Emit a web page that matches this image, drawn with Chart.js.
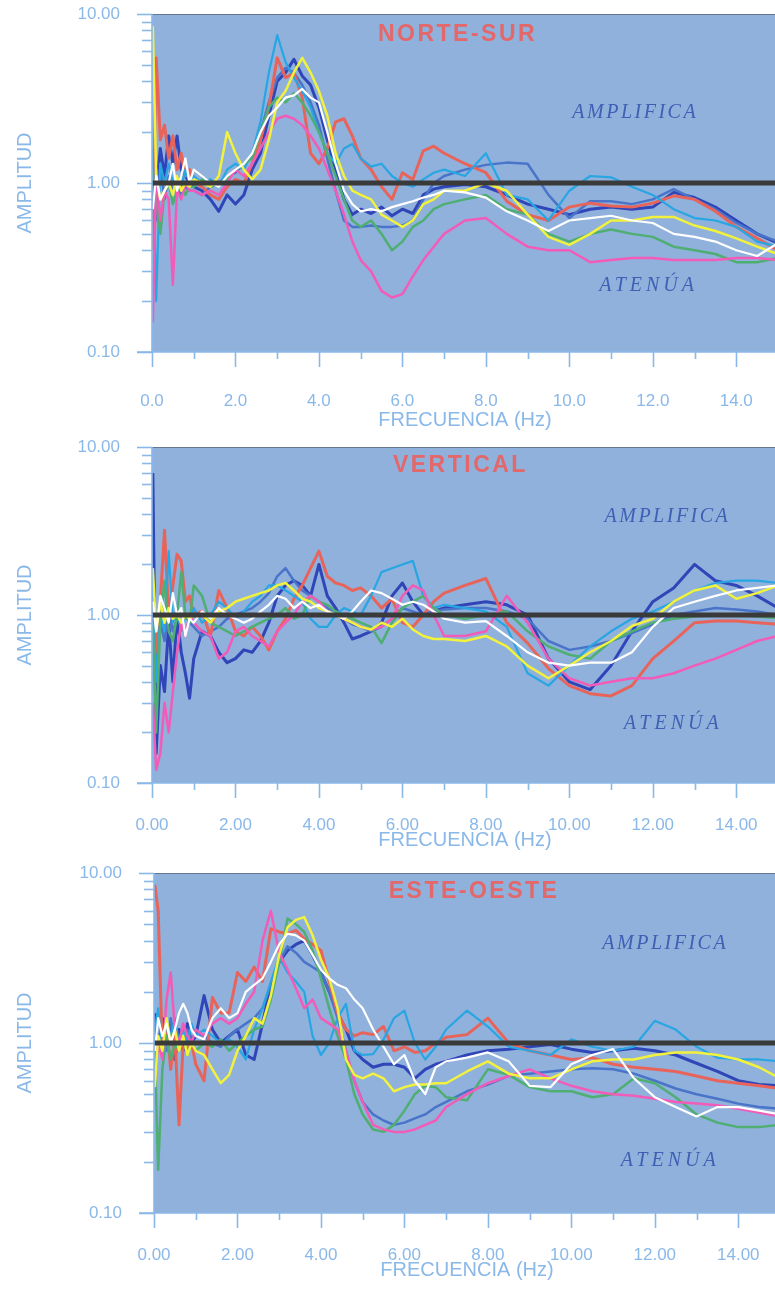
<!DOCTYPE html>
<html><head><meta charset="utf-8">
<script src="https://cdn.jsdelivr.net/npm/chart.js@4/dist/chart.umd.min.js"></script>
<style>
html,body{margin:0;padding:0;background:#ffffff;overflow:hidden;width:775px;height:1290px;}
canvas{position:absolute;left:0;}
</style></head><body>
<canvas id="c1"></canvas><canvas id="c2"></canvas><canvas id="c3"></canvas>
<script>
// ---------------- DATA ----------------
const freq = [0.02,0.1,0.2,0.3,0.4,0.5,0.6,0.7,0.8,0.9,
  1.0,1.2,1.4,1.6,1.8,2.0,2.2,2.4,2.6,2.8,
  3.0,3.2,3.4,3.6,3.8,4.0,4.2,4.4,4.6,4.8,
  5.0,5.25,5.5,5.75,6.0,6.25,6.5,6.75,7.0,7.5,
  8.0,8.5,9.0,9.5,10,10.5,11,11.5,12,12.5,
  13,13.5,14,14.5,15];
const xTickValues = [0,2,4,6,8,10,12,14];
const yTickValues = [0.1,1,10];
const refFreq = [0,15];
const refAmp = [1,1];
const seriesNames = ['blanco','amarillo','rosa','verde','celeste','rojo','azul','azul oscuro'];

// NORTE-SUR
const nsWhite = [0.7,1.1,0.8,0.9,1.0,1.3,0.9,1.1,1.4,1.0,
  1.2,1.1,1.0,0.95,1.1,1.2,1.3,1.5,2.0,2.5,
  2.8,3.2,3.3,3.6,3.2,3.0,2.0,1.3,0.9,0.75,
  0.68,0.7,0.68,0.72,0.75,0.78,0.82,0.85,0.9,0.88,
  0.82,0.68,0.6,0.52,0.6,0.62,0.64,0.6,0.58,0.5,
  0.48,0.45,0.4,0.37,0.44];
const nsYellow = [8.5,1.1,0.8,0.9,1.0,0.85,1.1,0.9,1.0,0.95,
  1.05,1.0,0.95,1.1,2.0,1.5,1.2,1.05,1.2,1.8,
  3.0,3.5,4.5,5.5,4.5,3.5,2.5,1.5,1.1,0.9,
  0.85,0.8,0.65,0.6,0.55,0.6,0.75,0.8,0.9,0.9,
  1.0,0.9,0.65,0.48,0.43,0.5,0.6,0.6,0.63,0.63,
  0.56,0.52,0.47,0.42,0.38];
const nsPink = [0.15,1.2,0.6,0.9,0.8,0.25,0.9,0.8,1.0,0.9,
  0.9,0.85,0.9,0.85,1.0,1.2,1.1,1.3,1.6,2.0,
  2.4,2.5,2.4,2.2,1.9,1.6,1.2,0.9,0.65,0.45,
  0.35,0.3,0.23,0.21,0.22,0.28,0.35,0.42,0.5,0.6,
  0.62,0.5,0.42,0.4,0.4,0.34,0.35,0.36,0.36,0.35,
  0.35,0.35,0.36,0.36,0.35];
const nsGreen = [1.2,0.8,0.5,0.9,1.0,0.75,0.9,1.0,0.85,0.95,
  0.95,1.05,0.95,1.0,1.05,1.2,1.3,1.4,2.0,2.8,
  3.2,3.0,3.4,3.0,2.5,2.0,1.5,1.1,0.8,0.6,
  0.55,0.6,0.5,0.4,0.45,0.55,0.6,0.7,0.75,0.8,
  0.85,0.7,0.65,0.5,0.45,0.5,0.53,0.5,0.48,0.42,
  0.4,0.38,0.34,0.34,0.36];
const nsCyan = [1.6,0.2,1.3,1.0,1.3,1.0,1.1,0.95,1.2,1.0,
  1.1,1.0,1.05,0.95,1.2,1.3,1.2,1.5,2.3,4.5,
  7.5,5.2,4.2,3.5,2.8,2.0,1.5,1.3,1.6,1.7,
  1.4,1.25,1.3,1.1,1.0,0.95,1.05,1.15,1.2,1.1,
  1.5,0.85,0.8,0.6,0.9,1.1,1.08,0.95,0.85,0.7,
  0.62,0.6,0.55,0.45,0.42];
const nsRed = [0.4,5.5,1.8,2.2,1.4,1.9,1.2,1.5,1.1,1.2,
  1.0,0.95,0.85,0.8,0.95,1.05,1.0,1.3,1.8,2.8,
  5.5,4.2,4.5,3.2,1.5,1.3,1.6,2.3,2.4,1.9,
  1.4,1.2,0.95,0.8,1.15,1.05,1.55,1.65,1.5,1.3,
  1.15,0.78,0.65,0.6,0.72,0.76,0.73,0.72,0.76,0.84,
  0.8,0.68,0.55,0.47,0.4];
const nsBlue = [1.0,0.6,1.3,0.8,1.1,0.9,1.0,0.85,0.95,0.9,
  0.9,0.85,0.95,1.0,1.1,1.15,1.3,1.5,2.0,3.0,
  4.2,4.8,4.5,3.8,3.0,2.2,1.4,0.9,0.6,0.55,
  0.55,0.56,0.55,0.55,0.56,0.6,0.8,1.0,1.1,1.2,
  1.28,1.32,1.3,0.85,0.62,0.78,0.78,0.75,0.8,0.92,
  0.8,0.7,0.58,0.5,0.45];
const nsDarkBlue = [1.5,0.9,1.6,1.1,1.9,1.3,1.9,1.2,1.1,1.0,
  0.95,0.9,0.8,0.68,0.85,0.75,0.85,1.2,1.5,2.5,
  4.0,4.5,5.4,4.3,3.8,2.8,1.8,1.2,0.8,0.65,
  0.7,0.66,0.72,0.64,0.7,0.66,0.85,0.92,0.95,0.98,
  0.95,0.85,0.75,0.7,0.65,0.7,0.72,0.7,0.72,0.88,
  0.82,0.72,0.6,0.5,0.44];

// VERTICAL
const vWhite = [1.2,0.8,1.3,1.1,0.9,1.35,1.0,1.1,0.75,0.95,
  0.9,1.05,0.95,1.1,1.0,0.95,0.9,0.95,1.05,1.15,
  1.3,1.25,1.1,1.2,1.1,1.15,1.05,1.0,0.95,1.05,
  1.2,1.4,1.35,1.25,1.15,1.2,1.15,1.05,0.95,0.9,
  0.92,0.75,0.6,0.52,0.5,0.52,0.52,0.6,0.85,1.1,
  1.2,1.3,1.4,1.45,1.5];
const vYellow = [1.9,0.8,1.2,0.9,1.1,0.95,1.0,0.9,1.0,0.95,
  1.0,1.0,0.9,1.05,1.1,1.2,1.25,1.3,1.35,1.4,
  1.5,1.55,1.4,1.25,1.2,1.1,1.05,1.0,0.95,0.9,
  0.85,0.82,0.9,0.85,0.95,0.82,0.75,0.72,0.72,0.7,
  0.75,0.65,0.5,0.42,0.5,0.6,0.7,0.86,0.95,1.2,
  1.4,1.5,1.25,1.35,1.5];
const vPink = [0.3,0.12,0.15,0.3,0.2,0.35,0.6,0.9,0.75,1.0,
  0.9,0.8,0.75,0.55,0.6,0.8,0.85,0.75,0.7,0.65,
  0.8,0.9,1.0,1.2,1.3,1.2,1.05,1.0,0.95,0.9,
  0.85,0.82,0.85,0.95,1.3,1.5,1.4,1.0,0.75,0.75,
  0.8,1.3,0.9,0.55,0.42,0.38,0.4,0.42,0.42,0.45,
  0.5,0.55,0.62,0.7,0.75];
const vGreen = [0.9,0.2,0.9,1.6,0.8,0.7,1.0,1.8,1.0,0.9,
  1.5,1.3,0.9,0.85,0.8,0.75,0.8,0.85,0.9,0.95,
  1.0,1.1,0.95,1.0,1.3,1.2,1.15,1.05,1.0,0.95,
  0.9,0.85,0.68,0.9,1.1,1.2,1.3,1.1,1.0,0.95,
  1.0,1.05,0.8,0.65,0.58,0.55,0.7,0.8,0.9,0.95,
  0.98,1.0,1.0,0.98,0.96];
const vCyan = [1.5,0.4,1.0,0.8,2.4,0.9,1.1,0.8,1.0,0.9,
  1.1,0.9,1.0,1.2,1.1,0.95,1.05,1.2,1.3,1.5,
  1.5,1.4,1.3,1.2,0.95,0.85,0.85,1.0,1.1,1.05,
  1.0,1.3,1.8,1.9,2.0,2.1,1.3,1.1,1.15,1.1,
  1.05,0.85,0.45,0.38,0.5,0.65,0.8,0.95,1.05,1.2,
  1.4,1.55,1.6,1.6,1.55];
const vRed = [1.3,0.6,1.2,3.2,1.0,1.5,2.3,2.1,1.2,1.3,
  1.0,1.05,0.75,1.4,1.1,0.8,0.75,0.85,0.75,0.62,
  0.8,0.95,1.25,1.5,1.9,2.4,1.7,1.55,1.5,1.4,
  1.45,1.3,1.1,1.25,0.9,0.85,1.0,1.2,1.35,1.5,
  1.65,0.9,0.68,0.48,0.38,0.34,0.33,0.38,0.55,0.7,
  0.9,0.92,0.92,0.9,0.88];
const vBlue = [1.0,0.5,0.9,0.7,1.1,0.8,0.95,0.85,1.0,0.9,
  0.85,0.75,0.8,0.85,0.95,1.0,1.05,1.1,1.2,1.35,
  1.7,1.9,1.6,1.4,1.3,1.2,1.1,1.05,0.95,0.88,
  0.85,0.8,0.85,0.95,1.1,1.05,1.0,1.05,1.08,1.1,
  1.1,1.05,0.95,0.7,0.62,0.65,0.7,0.78,0.88,1.0,
  1.05,1.1,1.08,1.05,1.0];
const vDarkBlue = [7.0,0.15,0.5,0.35,0.9,0.4,1.0,0.6,0.45,0.32,
  0.55,0.8,0.75,0.6,0.52,0.55,0.62,0.6,0.7,0.9,
  1.3,1.5,1.6,1.5,1.3,2.0,1.3,1.1,0.9,0.72,
  0.75,0.8,0.9,1.3,1.55,1.2,1.0,1.05,1.1,1.15,
  1.2,1.15,1.0,0.55,0.4,0.36,0.5,0.8,1.2,1.45,
  2.0,1.6,1.5,1.3,1.1];

// ESTE-OESTE
const eoWhite = [0.9,1.4,1.1,1.3,1.0,1.2,1.5,1.7,1.5,1.2,
  1.1,1.05,1.4,1.6,1.4,1.5,2.0,2.2,2.4,3.0,
  3.8,4.4,4.3,4.0,3.3,2.7,2.4,2.2,2.1,1.8,
  1.6,1.2,0.95,0.75,0.85,0.6,0.5,0.72,0.78,0.82,
  0.88,0.78,0.56,0.55,0.75,0.85,0.92,0.62,0.48,0.42,
  0.37,0.42,0.42,0.4,0.38];
const eoYellow = [0.55,1.1,0.9,1.4,1.0,1.2,0.9,1.1,0.85,1.0,
  0.9,0.85,0.7,0.58,0.65,0.9,1.1,1.4,1.3,1.9,
  3.3,4.8,5.3,5.5,4.3,3.1,2.4,1.6,0.8,0.65,
  0.62,0.66,0.62,0.52,0.55,0.57,0.57,0.58,0.58,0.68,
  0.78,0.66,0.62,0.62,0.7,0.78,0.8,0.8,0.85,0.88,
  0.88,0.85,0.8,0.72,0.62];
const eoPink = [0.6,1.0,0.8,1.8,2.6,1.2,1.0,1.3,1.1,1.0,
  1.2,1.1,1.3,1.4,1.3,1.4,1.7,2.0,4.0,6.0,
  3.4,2.7,2.1,1.6,1.8,1.4,1.3,1.2,0.9,0.6,
  0.45,0.33,0.31,0.3,0.3,0.31,0.33,0.35,0.42,0.5,
  0.58,0.64,0.7,0.62,0.56,0.52,0.5,0.49,0.47,0.45,
  0.44,0.43,0.41,0.39,0.37];
const eoGreen = [0.9,0.18,0.7,1.1,0.8,1.0,0.9,1.05,0.85,1.0,
  0.9,1.0,0.95,1.05,0.9,1.0,1.1,1.2,1.25,1.8,
  3.0,5.4,5.0,4.5,3.5,2.4,1.6,1.1,0.8,0.5,
  0.38,0.31,0.3,0.33,0.4,0.5,0.56,0.55,0.48,0.46,
  0.7,0.65,0.55,0.52,0.52,0.48,0.5,0.62,0.58,0.48,
  0.38,0.34,0.32,0.32,0.33];
const eoCyan = [1.2,1.6,0.9,1.3,1.1,1.4,1.0,1.2,1.0,1.3,
  1.1,1.2,1.1,1.0,1.05,0.95,0.8,1.2,1.6,2.3,
  3.2,2.6,2.3,2.0,1.1,0.85,1.0,1.4,1.7,0.9,
  0.85,0.86,1.05,1.4,1.55,1.0,0.8,0.95,1.2,1.55,
  1.25,0.95,0.9,0.85,1.05,0.95,0.9,0.95,1.35,1.2,
  0.95,0.82,0.8,0.8,0.78];
const eoRed = [8.5,6.0,0.9,1.3,0.7,1.1,0.33,1.0,0.9,1.0,
  0.75,0.6,1.85,1.5,1.5,2.6,2.3,2.8,2.3,4.7,
  4.5,4.4,4.6,4.1,3.8,3.5,2.3,1.5,1.2,1.1,
  1.15,1.12,1.25,0.9,0.95,0.88,0.9,1.0,1.08,1.12,
  1.4,1.0,0.9,0.85,0.8,0.82,0.75,0.72,0.7,0.68,
  0.64,0.6,0.58,0.56,0.54];
const eoBlue = [1.3,1.0,1.2,0.9,1.4,1.0,1.1,0.95,1.2,1.05,
  1.15,1.1,1.0,0.95,1.1,1.2,1.3,1.4,1.6,2.2,
  3.0,3.7,3.4,3.0,2.8,2.6,2.0,1.4,0.9,0.6,
  0.45,0.38,0.35,0.33,0.34,0.36,0.38,0.42,0.45,0.52,
  0.57,0.64,0.66,0.68,0.7,0.71,0.7,0.66,0.6,0.54,
  0.5,0.47,0.44,0.42,0.41];
const eoDarkBlue = [1.5,0.9,1.4,1.0,1.3,0.8,1.2,0.9,1.3,1.0,
  1.1,1.9,1.2,1.0,1.1,1.2,0.85,0.8,1.3,2.2,
  3.0,3.5,3.8,4.0,3.3,2.6,2.0,1.5,1.2,0.9,
  0.8,0.72,0.75,0.75,0.72,0.62,0.7,0.75,0.78,0.85,
  0.9,0.92,0.95,0.98,0.92,0.88,0.9,0.93,0.9,0.85,
  0.76,0.68,0.6,0.57,0.56];

// ---------------- STYLE / LAYOUT ----------------
const STYLE = {
  plotBg: '#8fb1db', axis: '#8ab8e8', text: '#8ab8e8', topBorder: '#66768e',
  title: '#e4676a', note: '#3f5fb5', ref: '#3a3a3a',
  sans: "'Liberation Sans', Arial, sans-serif", serif: "'Liberation Serif', 'Times New Roman', serif"
};
const seriesColors = ['#ffffff','#f2f23c','#f25cb8','#4fae72','#27a6e3','#e8645a','#4a74c9','#2f45b8'];
const seriesWidths = [2.2,2.5,2.5,2.5,2.2,3,2.5,3];

const panels = [
  {canvas:'c1', top:0, width:795, height:440, plotLeft:152, plotRight:778, plotTop:14, plotBottom:352,
   dec:1, tickPad:39, xTitlePad:8, name:'NORTE-SUR', titleAt:[7.32,6.92], ampAt:[11.58,2.42], atenAt:[11.9,0.23],
   series:[nsWhite,nsYellow,nsPink,nsGreen,nsCyan,nsRed,nsBlue,nsDarkBlue]},
  {canvas:'c2', top:430, width:795, height:440, plotLeft:152, plotRight:778, plotTop:17, plotBottom:353,
   dec:2, tickPad:32, xTitlePad:18, name:'VERTICAL', titleAt:[7.39,7.1], ampAt:[12.35,3.58], atenAt:[12.49,0.21],
   series:[vWhite,vYellow,vPink,vGreen,vCyan,vRed,vBlue,vDarkBlue]},
  {canvas:'c3', top:860, width:795, height:430, plotLeft:154, plotRight:780, plotTop:13, plotBottom:353,
   dec:2, tickPad:32, xTitlePad:8, name:'ESTE-OESTE', titleAt:[7.67,7.13], ampAt:[12.25,3.57], atenAt:[12.37,0.189],
   series:[eoWhite,eoYellow,eoPink,eoGreen,eoCyan,eoRed,eoBlue,eoDarkBlue]}
];

// ---------------- PLUGIN ----------------
const framePlugin = {
  id: 'frame',
  beforeDraw(chart) {
    const {ctx, chartArea: a} = chart;
    ctx.save();
    ctx.fillStyle = STYLE.plotBg;
    ctx.fillRect(a.left, a.top, a.right - a.left, a.bottom - a.top);
    ctx.restore();
  },
  afterDatasetsDraw(chart, args, opts) {
    const {ctx, scales: {x, y}} = chart;
    ctx.save();
    ctx.textAlign = 'center';
    ctx.textBaseline = 'alphabetic';
    ctx.fillStyle = STYLE.title;
    ctx.font = "bold 23px " + STYLE.sans;
    ctx.letterSpacing = '2.5px';
    ctx.fillText(opts.name, x.getPixelForValue(opts.titleAt[0]), y.getPixelForValue(opts.titleAt[1]));
    ctx.fillStyle = STYLE.note;
    ctx.font = "italic 20px " + STYLE.serif;
    ctx.letterSpacing = '2.5px';
    ctx.fillText('AMPLIFICA', x.getPixelForValue(opts.ampAt[0]), y.getPixelForValue(opts.ampAt[1]));
    ctx.letterSpacing = '4px';
    ctx.fillText('ATENÚA', x.getPixelForValue(opts.atenAt[0]), y.getPixelForValue(opts.atenAt[1]));
    ctx.restore();
  },
  afterDraw(chart) {
    const {ctx, chartArea: a, scales: {x, y}} = chart;
    ctx.save();
    const seg = (x1, y1, x2, y2) => { ctx.beginPath(); ctx.moveTo(x1, y1); ctx.lineTo(x2, y2); ctx.stroke(); };
    ctx.strokeStyle = STYLE.topBorder; ctx.lineWidth = 1.2;
    seg(a.left, a.top + 0.5, a.right, a.top + 0.5);
    ctx.strokeStyle = STYLE.axis; ctx.lineWidth = 1.6;
    seg(a.left, a.top, a.left, a.bottom);
    seg(a.left - 15, a.bottom, a.right, a.bottom);
    for (let d = -1; d <= 1; d++) {
      for (let m = 1; m <= 9; m++) {
        const v = m * Math.pow(10, d);
        if (v > 10.0001) break;
        const py = Math.round(y.getPixelForValue(v)) + 0.5;
        const len = m === 1 ? 15 : 10;
        seg(a.left - len, py, a.left, py);
      }
    }
    for (let v = 0; v <= 15; v++) {
      const px = Math.round(x.getPixelForValue(v)) + 0.5;
      if (px > a.right + 1) continue;
      const len = v % 2 === 0 ? 15 : 7;
      seg(px, a.bottom, px, a.bottom + len);
    }
    ctx.restore();
  }
};

// ---------------- CHARTS ----------------
panels.forEach(p => {
  const cv = document.getElementById(p.canvas);
  cv.width = p.width; cv.height = p.height;
  cv.style.width = p.width + 'px'; cv.style.height = p.height + 'px';
  cv.style.top = p.top + 'px';
  const datasets = [{
    label: 'referencia', data: refFreq.map((f, i) => ({x: f, y: refAmp[i]})),
    borderColor: STYLE.ref, borderWidth: 5, pointRadius: 0, tension: 0, borderCapStyle: 'butt'
  }];
  p.series.forEach((vals, k) => {
    datasets.push({
      label: seriesNames[k], data: freq.map((f, i) => ({x: f, y: vals[i]})),
      borderColor: seriesColors[k], borderWidth: seriesWidths[k], pointRadius: 0, tension: 0,
      borderJoinStyle: 'round'
    });
  });
  new Chart(cv, {
    type: 'line',
    data: {datasets},
    plugins: [framePlugin],
    options: {
      responsive: false, animation: false, devicePixelRatio: 1,
      layout: {padding: {top: p.plotTop, right: p.width - p.plotRight, left: 0, bottom: 0}},
      plugins: {
        legend: {display: false}, tooltip: {enabled: false},
        frame: {name: p.name, titleAt: p.titleAt, ampAt: p.ampAt, atenAt: p.atenAt}
      },
      scales: {
        x: {
          type: 'linear', min: 0, max: 15,
          afterFit: s => { s.height = p.height - p.plotBottom; },
          afterBuildTicks: s => { s.ticks = xTickValues.map(v => ({value: v})); },
          grid: {display: false, drawTicks: true, tickLength: p.tickPad - 2},
          border: {display: false},
          ticks: {color: STYLE.text, font: {family: STYLE.sans, size: 17}, padding: 2,
                  maxRotation: 0, autoSkip: false, callback: v => Number(v).toFixed(p.dec)},
          title: {display: true, text: 'FRECUENCIA (Hz)', color: STYLE.text,
                  font: {family: STYLE.sans, size: 20}, padding: {top: 0, bottom: p.xTitlePad}}
        },
        y: {
          type: 'logarithmic', min: 0.1, max: 10,
          afterFit: s => { s.width = p.plotLeft; },
          afterBuildTicks: s => { s.ticks = yTickValues.map(v => ({value: v})); },
          grid: {display: false, drawTicks: true, tickLength: 30},
          border: {display: false},
          ticks: {color: STYLE.text, font: {family: STYLE.sans, size: 17}, padding: 2,
                  autoSkip: false, callback: v => Number(v).toFixed(2)},
          title: {display: true, text: 'AMPLITUD', color: STYLE.text,
                  font: {family: STYLE.sans, size: 20}, padding: {top: 13, bottom: 0}}
        }
      }
    }
  });
});
</script>
</body></html>
